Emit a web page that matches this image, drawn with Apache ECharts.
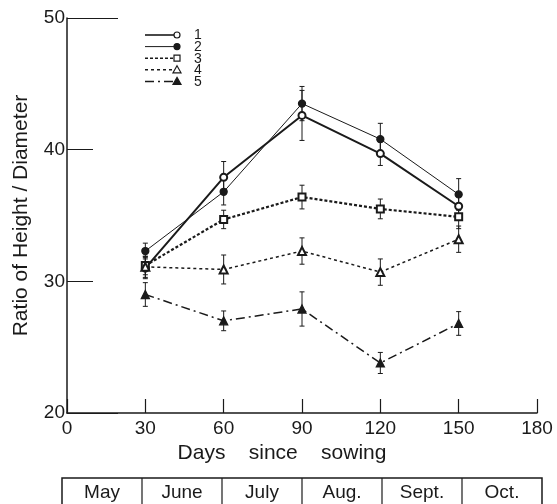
<!DOCTYPE html>
<html><head><meta charset="utf-8">
<script src="https://cdn.jsdelivr.net/npm/echarts@6/dist/echarts.min.js"></script>
<style>html,body{margin:0;padding:0;background:#fff}#c{width:557px;height:504px}</style>
</head><body><div id="c"></div>
<script>
// ---- data ----
var days = [30, 60, 90, 120, 150];
var seriesNames = ['1', '2', '3', '4', '5'];
var s1 = [31.0, 37.9, 42.6, 39.7, 35.7];
var s2 = [32.3, 36.8, 43.5, 40.8, 36.6];
var s3 = [31.2, 34.7, 36.4, 35.5, 34.9];
var s4 = [31.1, 30.9, 32.3, 30.7, 33.2];
var s5 = [29.0, 27.0, 27.9, 23.8, 26.8];
var e1 = [0.8, 1.2, 1.9, 0.9, 1.0];
var e2 = [0.6, 1.0, 1.3, 1.2, 1.2];
var e3 = [0.7, 0.7, 0.9, 0.75, 0.9];
var e4 = [0.8, 1.1, 1.0, 1.0, 1.0];
var e5 = [0.9, 0.75, 1.3, 0.8, 0.9];
var months = ['May', 'June', 'July', 'Aug.', 'Sept.', 'Oct.'];
var xTicks = [0, 30, 60, 90, 120, 150, 180];
var yTicks = [20, 30, 40, 50];

var values = [s1, s2, s3, s4, s5];
var errs = [e1, e2, e3, e4, e5];
var INK = '#1a1a1a';
var FONT = 'Liberation Sans';
var styles = [
  {symbol: 'emptyCircle', size: 7, width: 2, type: 'solid'},
  {symbol: 'circle', size: 7, width: 1, type: 'solid'},
  {symbol: 'emptyRect', size: 7, width: 2.2, type: [3, 2]},
  {symbol: 'emptyTriangle', size: 8, width: 1.5, type: [3, 3]},
  {symbol: 'triangle', size: 8, width: 1.5, type: [9, 4, 2, 4]}
];

var chart = echarts.init(document.getElementById('c'));
var series = [];
values.forEach(function (v, i) {
  var st = styles[i];
  series.push({
    type: 'custom', name: 'err' + i, xAxisIndex: 0, yAxisIndex: 0, silent: true, z: 1,
    data: days.map(function (d, k) { return [d, v[k] - errs[i][k], v[k] + errs[i][k]]; }),
    renderItem: function (params, api) {
      var lo = api.coord([api.value(0), api.value(1)]);
      var hi = api.coord([api.value(0), api.value(2)]);
      var w = 2.5;
      var s = {stroke: INK, lineWidth: 1};
      return {type: 'group', children: [
        {type: 'line', shape: {x1: lo[0], y1: lo[1], x2: hi[0], y2: hi[1]}, style: s},
        {type: 'line', shape: {x1: lo[0] - w, y1: lo[1], x2: lo[0] + w, y2: lo[1]}, style: s},
        {type: 'line', shape: {x1: hi[0] - w, y1: hi[1], x2: hi[0] + w, y2: hi[1]}, style: s}
      ]};
    }
  });
  series.push({
    type: 'line', name: seriesNames[i], z: 3,
    data: days.map(function (d, k) { return [d, v[k]]; }),
    symbol: st.symbol, symbolSize: st.size, showAllSymbol: true,
    lineStyle: {color: INK, width: st.width, type: st.type},
    itemStyle: {color: INK, borderColor: INK, borderWidth: 1.3},
    emphasis: {disabled: true}, animation: false
  });
});

var option = {
  animation: false,
  backgroundColor: '#fff',
  grid: {left: 67, right: 20, top: 18, bottom: 91},
  xAxis: [{
    type: 'value', min: xTicks[0], max: xTicks[xTicks.length - 1], interval: 30,
    axisLine: {show: true, lineStyle: {color: INK, width: 1.5}},
    axisTick: {show: true, inside: true, length: 14, lineStyle: {color: INK, width: 1.2}},
    splitLine: {show: false},
    axisLabel: {color: INK, fontFamily: FONT, fontSize: 19, margin: 6},
    name: 'Days    since    sowing', nameLocation: 'middle', nameGap: 30,
    nameTextStyle: {color: INK, fontFamily: FONT, fontSize: 21, padding: [0, 40, 0, 0]}
  }],
  yAxis: [{
    type: 'value', min: yTicks[0], max: yTicks[yTicks.length - 1], interval: 10,
    axisLine: {show: true, lineStyle: {color: INK, width: 1.5}},
    axisTick: {show: true, inside: true, length: 26, lineStyle: {color: INK, width: 1}},
    splitLine: {show: false},
    axisLabel: {color: INK, fontFamily: FONT, fontSize: 19, margin: 2},
    name: 'Ratio of Height / Diameter', nameLocation: 'middle', nameGap: 35,
    nameTextStyle: {color: INK, fontFamily: FONT, fontSize: 21}
  }, {
    type: 'value', min: yTicks[0], max: yTicks[yTicks.length - 1], interval: 30, position: 'left',
    axisLine: {show: false},
    axisTick: {show: true, inside: true, length: 51, lineStyle: {color: INK, width: 1.2}},
    axisLabel: {show: false}, splitLine: {show: false}
  }],
  series: series
};
chart.setOption(option);

// legend (line with marker at right end) and month table
var g = [];
var lx0 = 145, lx1 = 177, ly0 = 35, ldy = 11.6;
styles.forEach(function (st, i) {
  var y = ly0 + i * ldy;
  g.push({type: 'line', shape: {x1: lx0, y1: y, x2: lx1 - 3, y2: y},
    style: {stroke: INK, lineWidth: Math.min(st.width, 1.6), lineDash: st.type === 'solid' ? null : st.type}});
  var mx = lx1, r = 3;
  var filled = st.symbol.indexOf('empty') < 0;
  var ms = {stroke: INK, lineWidth: 1.2, fill: filled ? INK : '#fff'};
  if (st.symbol.indexOf('ircle') >= 0) {
    g.push({type: 'circle', shape: {cx: mx, cy: y, r: r}, style: ms});
  } else if (st.symbol.indexOf('ect') >= 0) {
    g.push({type: 'rect', shape: {x: mx - r, y: y - r, width: 2 * r, height: 2 * r}, style: ms});
  } else {
    g.push({type: 'polygon', shape: {points: [[mx, y - 4], [mx + 4, y + 3], [mx - 4, y + 3]]}, style: ms});
  }
  g.push({type: 'text', x: 194, y: y + 0.5, style: {text: seriesNames[i], fill: INK, font: '14px ' + FONT, verticalAlign: 'middle', align: 'left'}});
});
var tL = 62, tR = 542, tT = 478, tB = 515, cw = (tR - tL) / months.length;
g.push({type: 'rect', shape: {x: tL, y: tT, width: tR - tL, height: tB - tT}, style: {fill: 'none', stroke: INK, lineWidth: 1.5}});
months.forEach(function (m, i) {
  if (i > 0) g.push({type: 'line', shape: {x1: tL + i * cw, y1: tT, x2: tL + i * cw, y2: tB}, style: {stroke: INK, lineWidth: 1.2}});
  g.push({type: 'text', x: tL + (i + 0.5) * cw, y: 493, style: {text: m, fill: INK, font: '19px ' + FONT, align: 'center', verticalAlign: 'middle'}});
});
chart.setOption({graphic: {elements: g}});
</script>
</body></html>
